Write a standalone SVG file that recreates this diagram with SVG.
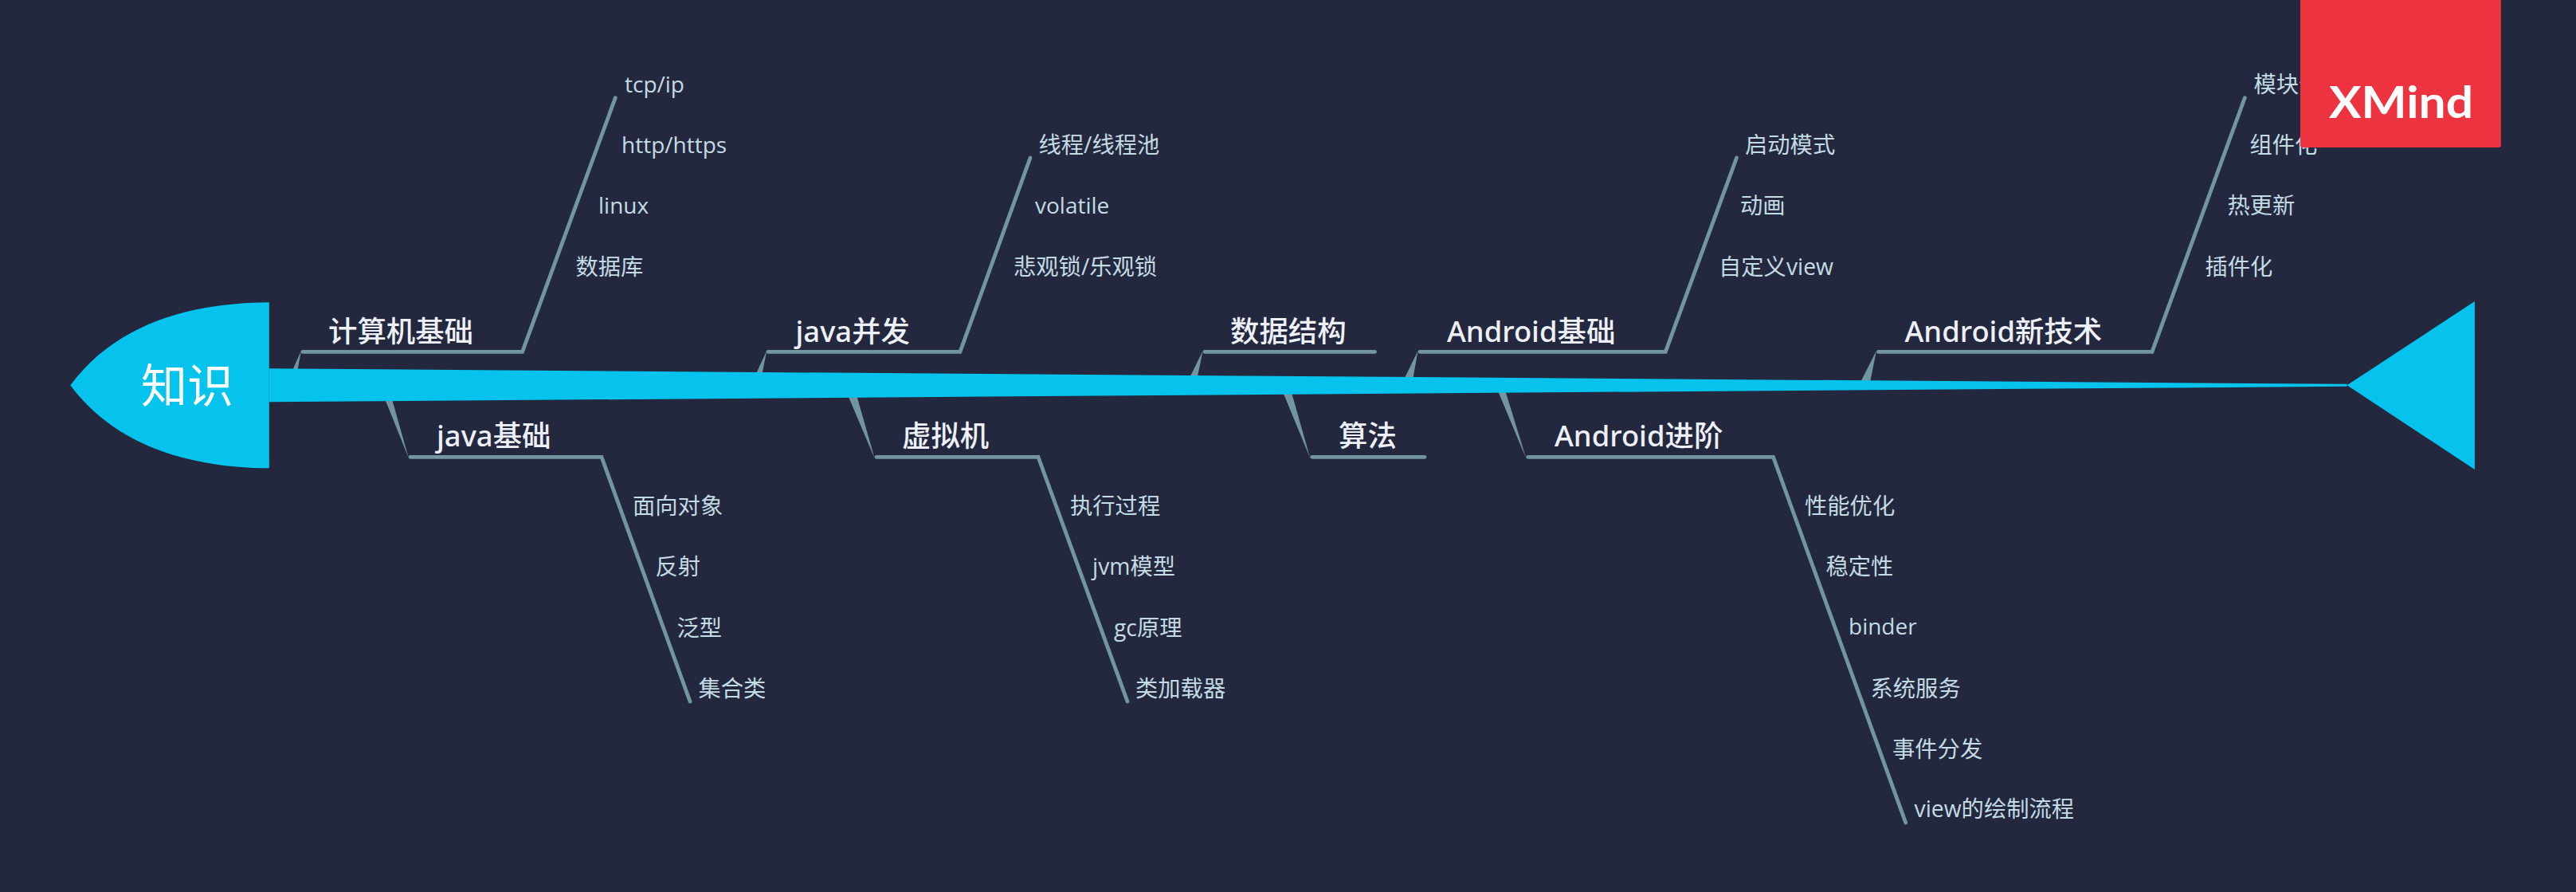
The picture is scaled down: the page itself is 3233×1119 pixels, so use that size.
<svg xmlns="http://www.w3.org/2000/svg" width="3233" height="1119" viewBox="0 0 3233 1119">
<style>
text{font-family:"Open Sans","Noto Sans CJK SC",sans-serif}
.sub{font-size:28.3px;fill:#C3DBE2}
.lat{font-size:28px}
.main{font-family:"Noto Sans","Noto Sans CJK SC",sans-serif;font-size:36.4px;font-weight:500;fill:#EEF0F7}
.line{fill:none;stroke:#72969E;stroke-width:4.8;stroke-linecap:round;stroke-linejoin:miter}
.taper{fill:#72969E}
.fish{fill:#05C3EC}
</style>
<rect width="3233" height="1119" fill="#23283E"/>
<g id="connectors">
<polygon class="taper" points="367.3,464 373.5,464 378,440"/>
<path class="line" d="M380 441.3H655.6L772.3 122.7"/>
<polygon class="taper" points="483.7,502 492.3,502 513,575"/>
<path class="line" d="M515 573.3H755L866 880"/>
<polygon class="taper" points="949.3,468 956.7,468 962.3,440"/>
<path class="line" d="M964 441.3H1205L1293 198"/>
<polygon class="taper" points="1065,498 1075.7,498 1097.7,575"/>
<path class="line" d="M1100 573.3H1303L1415 880"/>
<polygon class="taper" points="1493.9,472 1503,472 1509.7,440"/>
<path class="line" d="M1512 441.3H1725.5"/>
<polygon class="taper" points="1763,474 1773.5,474 1779.6,440"/>
<path class="line" d="M1782 441.3H2090.3L2179.5 198"/>
<polygon class="taper" points="1611,494 1621.4,494 1644.4,575"/>
<path class="line" d="M1646.8 573.3H1788"/>
<polygon class="taper" points="1880.6,492 1889.8,492 1915.3,575"/>
<path class="line" d="M1917.7 573.3H2225.5L2391.7 1032"/>
<polygon class="taper" points="2335.7,478 2347.3,478 2355,440"/>
<path class="line" d="M2357.4 441.3H2701L2817.3 122.7"/>
</g>
<g id="spine"><polygon class="fish" points="337.8,462.3 2945.6,481.8 2945.6,484.8 337.8,504.3"/></g>
<g id="node-root">
<path class="fish" d="M337.8 379.3C250 380 150 400 88.3 483.3C150 566 250 586.6 337.8 587.3Z"/>
<text x="177" y="504.5" font-size="58" fill="#fff">知识</text>
</g>
<g id="node-tail"><polygon class="fish" points="2945.6,483.3 3105.9,378 3105.9,589"/></g>
<g id="node-computer">
<text class="main" x="412" y="428.5">计算机基础</text>
<text class="sub lat" x="784" y="116">tcp/ip</text>
<text class="sub lat" x="780" y="191.5">http/https</text>
<text class="sub lat" x="751" y="268">linux</text>
<text class="sub" x="722.5" y="345">数据库</text>
</g>
<g id="node-java-basic">
<text class="main" x="548" y="560">java基础</text>
<text class="sub" x="794" y="645">面向对象</text>
<text class="sub" x="822.5" y="721">反射</text>
<text class="sub" x="849.5" y="798">泛型</text>
<text class="sub" x="876.5" y="874">集合类</text>
</g>
<g id="node-java-concurrent">
<text class="main" x="998.5" y="428.5">java并发</text>
<text class="sub" x="1303.5" y="191.5">线程/线程池</text>
<text class="sub lat" x="1299" y="268">volatile</text>
<text class="sub" x="1272" y="345">悲观锁/乐观锁</text>
</g>
<g id="node-jvm">
<text class="main" x="1132" y="560">虚拟机</text>
<text class="sub" x="1343" y="645">执行过程</text>
<text class="sub" x="1371" y="721">jvm模型</text>
<text class="sub" x="1398" y="798">gc原理</text>
<text class="sub" x="1425" y="874">类加载器</text>
</g>
<g id="node-ds">
<text class="main" x="1544" y="428.5">数据结构</text>
</g>
<g id="node-algo">
<text class="main" x="1680" y="560">算法</text>
</g>
<g id="node-android-basic">
<text class="main" x="1816" y="428.5">Android基础</text>
<text class="sub" x="2190" y="191.5">启动模式</text>
<text class="sub" x="2184" y="268">动画</text>
<text class="sub" x="2157" y="345">自定义view</text>
</g>
<g id="node-android-adv">
<text class="main" x="1951" y="560">Android进阶</text>
<text class="sub" x="2265" y="645">性能优化</text>
<text class="sub" x="2291.5" y="721">稳定性</text>
<text class="sub lat" x="2320" y="796">binder</text>
<text class="sub" x="2347.5" y="874">系统服务</text>
<text class="sub" x="2375" y="950">事件分发</text>
<text class="sub" x="2402.5" y="1025">view的绘制流程</text>
</g>
<g id="node-android-new">
<text class="main" x="2390.5" y="428.5">Android新技术</text>
<text class="sub" x="2828.5" y="116">模块化</text>
<text class="sub" x="2823.5" y="191.5">组件化</text>
<text class="sub" x="2795.5" y="268">热更新</text>
<text class="sub" x="2767.5" y="345">插件化</text>
</g>
<g id="badge">
<path d="M2887 0H3138.8V182a3 3 0 0 1-3 3H2890a3 3 0 0 1-3-3Z" fill="#EE3340"/>
<text x="2923" y="147.5" font-size="55" font-weight="700" fill="#fff" style="font-family:Lato,sans-serif" textLength="181" lengthAdjust="spacingAndGlyphs">XMind</text>
</g>
</svg>
